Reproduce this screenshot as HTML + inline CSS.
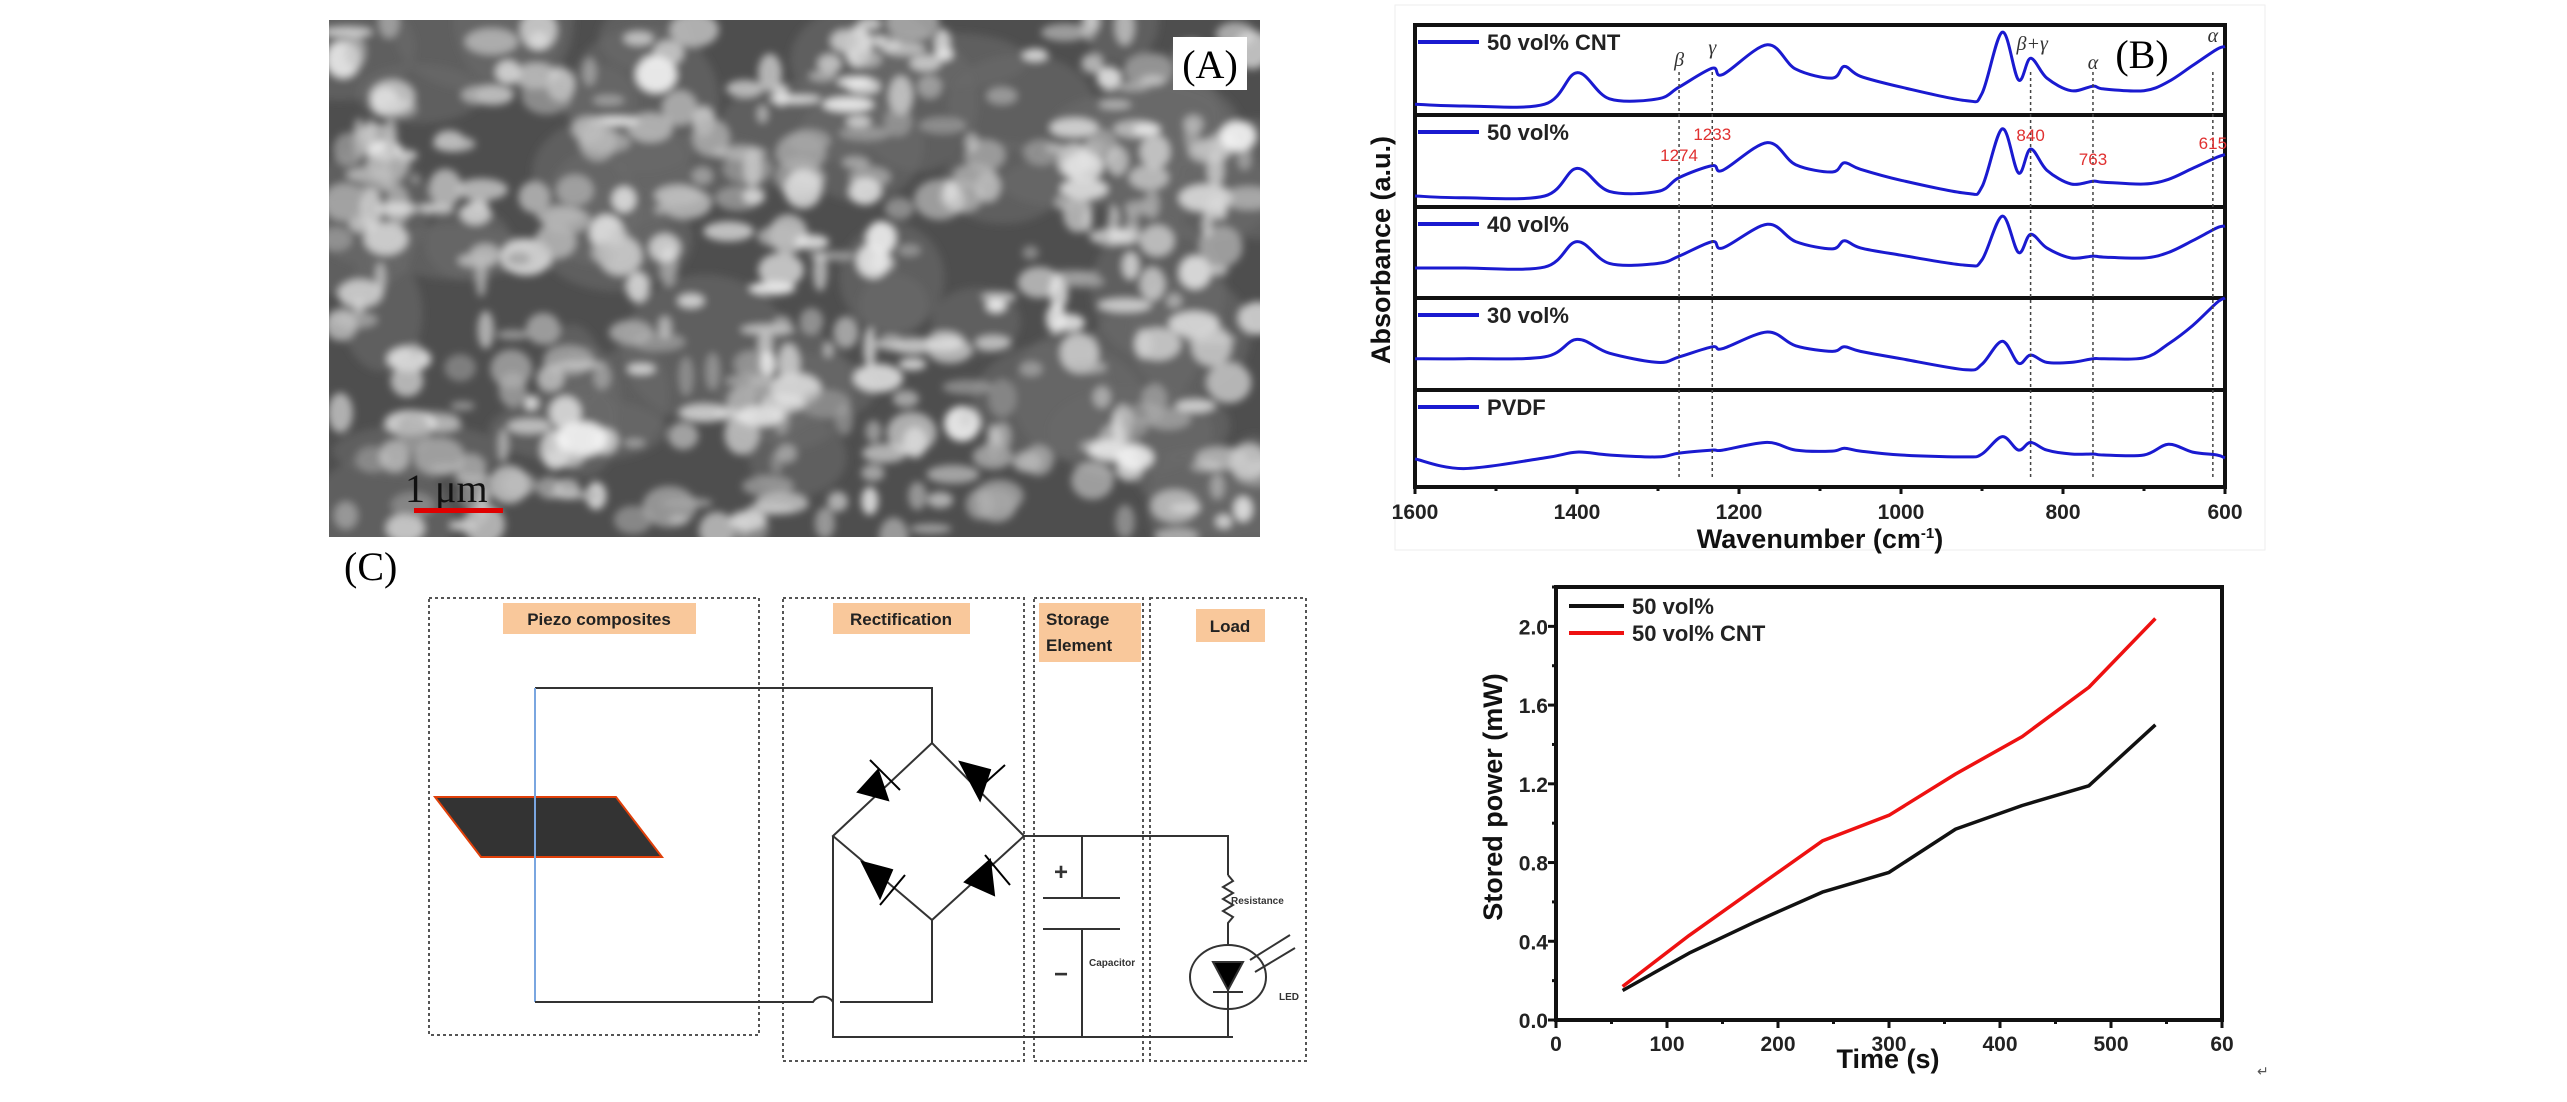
<!DOCTYPE html>
<html><head><meta charset="utf-8"><style>
html,body{margin:0;padding:0;background:#fff;}
body{width:2567px;height:1102px;overflow:hidden;position:relative;}
svg{position:absolute;left:0;top:0;}
.b{font-family:"Liberation Sans",sans-serif;font-weight:bold;}
.s{font-family:"Liberation Serif",serif;}
</style></head><body>
<svg id="root" width="2567" height="1102" viewBox="0 0 2567 1102">
<defs>
<filter id="blur" x="-20%" y="-20%" width="140%" height="140%"><feGaussianBlur stdDeviation="4"/></filter>
<clipPath id="semclip"><rect x="329" y="20" width="931" height="517"/></clipPath>
</defs>
<!-- Panel A -->
<g>
<rect x="329" y="20" width="931" height="517" fill="#4e4e4e"/>
<g id="blobs" clip-path="url(#semclip)" filter="url(#blur)"></g>
<rect x="1173" y="37" width="74" height="53" fill="#fff"/>
<text x="1210" y="78" class="s" font-size="40" text-anchor="middle">(A)</text>
<text x="405" y="502" class="s" font-size="40" fill="#111">1 μm</text>
<rect x="414" y="508" width="89" height="5" fill="#e00000"/>
</g>

<!-- Panel B -->
<g id="panelB"></g>

<!-- Panel C -->
<g fill="none" stroke="#333" stroke-width="2">
<text x="344" y="580" class="s" font-size="40" fill="#000" stroke="none">(C)</text>
<rect x="429" y="598" width="330" height="437" stroke-dasharray="3,3" stroke="#555"/>
<rect x="783" y="598" width="241" height="463" stroke-dasharray="3,3" stroke="#555"/>
<rect x="1034" y="598" width="109" height="463" stroke-dasharray="3,3" stroke="#555"/>
<rect x="1150" y="598" width="156" height="463" stroke-dasharray="3,3" stroke="#555"/>
<rect x="503" y="603" width="193" height="31" fill="#f9c89b" stroke="none"/>
<text x="599" y="625" class="b" font-size="17" text-anchor="middle" fill="#222" stroke="none">Piezo composites</text>
<rect x="833" y="603" width="137" height="31" fill="#f9c89b" stroke="none"/>
<text x="901" y="625" class="b" font-size="17" text-anchor="middle" fill="#222" stroke="none">Rectification</text>
<rect x="1039" y="603" width="102" height="59" fill="#f9c89b" stroke="none"/>
<text x="1046" y="625" class="b" font-size="17" fill="#222" stroke="none">Storage</text>
<text x="1046" y="651" class="b" font-size="17" fill="#222" stroke="none">Element</text>
<rect x="1196" y="609" width="69" height="33" fill="#f9c89b" stroke="none"/>
<text x="1230" y="632" class="b" font-size="17" text-anchor="middle" fill="#222" stroke="none">Load</text>
<polygon points="435,797 616,797 662,857 481,857" fill="#333" stroke="#e0400a" stroke-width="2"/>
<path d="M535,688 H932 V743"/>
<path d="M535,688 V1002" stroke="#7aa6e0"/>
<path d="M535,1002 H813 A12,12 0 0 1 833,1002 M840,1002 H932 V920"/>
<path d="M932,743 L833,836 L932,920 L1024,836 Z"/>
<path d="M833,836 V1037 H1233"/>
<path d="M1024,836 H1228 V875"/>
<g fill="#000" stroke="#000">
<polygon points="858,792 878,770 888,800"/><line x1="870" y1="760" x2="900" y2="790"/>
<polygon points="960,762 990,770 980,800"/><line x1="975" y1="792" x2="1005" y2="765"/>
<polygon points="862,862 892,870 880,898"/><line x1="880" y1="905" x2="905" y2="875"/>
<polygon points="965,882 990,860 994,895"/><line x1="985" y1="855" x2="1010" y2="885"/>
</g>
<path d="M1082,836 V898 M1043,898 H1120 M1043,929 H1120 M1082,929 V1037"/>
<text x="1061" y="880" font-size="24" fill="#333" stroke="none" text-anchor="middle" class="b">+</text>
<text x="1061" y="982" font-size="24" fill="#333" stroke="none" text-anchor="middle" class="b">−</text>
<text x="1089" y="966" font-size="10" fill="#333" stroke="none" class="b">Capacitor</text>
<path d="M1228,875 l5,6 l-10,6 l10,6 l-10,6 l10,6 l-10,6 l10,6 l-5,6 V945"/>
<text x="1231" y="904" font-size="10" fill="#333" stroke="none" class="b">Resistance</text>
<ellipse cx="1228" cy="977" rx="38" ry="32"/>
<polygon points="1213,962 1243,962 1228,990" fill="#000"/>
<path d="M1213,992 H1243 M1228,990 V1037 M1250,960 L1290,935 M1255,972 L1295,948"/>
<text x="1279" y="1000" font-size="10" fill="#333" stroke="none" class="b">LED</text>
</g>

<!-- Panel D -->
<g id="panelD"></g>
<text x="2257" y="1076" font-size="14" fill="#555">↵</text>
</svg>
<script>
const NS="http://www.w3.org/2000/svg";
function mk(parent,tag,attrs){const e=document.createElementNS(NS,tag);for(const k in attrs)e.setAttribute(k,attrs[k]);parent.appendChild(e);return e;}
function smooth(pts){let d='M'+pts[0][0].toFixed(1)+','+pts[0][1].toFixed(1);
 for(let i=0;i<pts.length-1;i++){const p0=pts[Math.max(0,i-1)],p1=pts[i],p2=pts[i+1],p3=pts[Math.min(pts.length-1,i+2)];
  const c1x=p1[0]+(p2[0]-p0[0])/6,c1y=p1[1]+(p2[1]-p0[1])/6,c2x=p2[0]-(p3[0]-p1[0])/6,c2y=p2[1]-(p3[1]-p1[1])/6;
  d+=' C'+c1x.toFixed(1)+','+c1y.toFixed(1)+' '+c2x.toFixed(1)+','+c2y.toFixed(1)+' '+p2[0].toFixed(1)+','+p2[1].toFixed(1);}
 return d;}

// ---------- SEM blobs (decorative texture) ----------
(function(){
 let s=12345;function r(){s=(s*16807)%2147483647;return s/2147483647;}
 const g=document.getElementById('blobs');
 for(let i=0;i<60;i++){
  const e=mk(g,'ellipse',{cx:329+r()*931,cy:20+r()*517,rx:30+r()*60,ry:25+r()*50,fill:'#6a6a6a','fill-opacity':0.6});
  
  
 }
 for(let i=0;i<380;i++){
  const v=Math.round(165+r()*80);
  const e=mk(g,'ellipse',{cx:329+r()*931,cy:20+r()*517,rx:5+r()*22,ry:4+r()*17,fill:'rgb('+v+','+v+','+v+')','fill-opacity':0.5+r()*0.45});
  
  
 }
})();

// ---------- Panel B data ----------
const ftirLabels=["50 vol% CNT","50 vol%","40 vol%","30 vol%","PVDF"];
const ftirWave=[1600,1540,1440,1400,1360,1300,1274,1233,1220,1165,1130,1085,1070,1050,1000,920,900,875,855,840,820,790,763,750,700,670,640,610,600];
const ftir1=[0.12,0.10,0.12,0.47,0.18,0.18,0.31,0.52,0.45,0.78,0.51,0.41,0.54,0.43,0.31,0.16,0.24,0.92,0.39,0.63,0.41,0.27,0.32,0.29,0.27,0.37,0.55,0.73,0.76];
const ftir2=[0.12,0.10,0.12,0.42,0.17,0.17,0.32,0.45,0.40,0.70,0.46,0.38,0.48,0.41,0.29,0.15,0.22,0.85,0.37,0.63,0.40,0.25,0.28,0.27,0.25,0.30,0.42,0.54,0.57];
const ftir3=[0.33,0.33,0.34,0.62,0.38,0.38,0.46,0.62,0.55,0.81,0.62,0.54,0.63,0.55,0.47,0.36,0.42,0.90,0.50,0.70,0.55,0.44,0.46,0.45,0.44,0.50,0.63,0.77,0.79];
const ftir4=[0.34,0.34,0.36,0.55,0.40,0.30,0.36,0.47,0.45,0.63,0.48,0.42,0.47,0.42,0.34,0.22,0.28,0.53,0.29,0.38,0.30,0.30,0.34,0.34,0.35,0.50,0.70,0.95,1.00];
const ftir5=[0.29,0.19,0.30,0.36,0.33,0.31,0.35,0.38,0.38,0.46,0.38,0.37,0.40,0.37,0.33,0.31,0.34,0.52,0.38,0.46,0.38,0.34,0.34,0.33,0.33,0.44,0.36,0.33,0.30];
const ftirSeries=[ftir1,ftir2,ftir3,ftir4,ftir5];
const ftirTicks=[1600,1400,1200,1000,800,600];
const markerWaves=[1274,1233,840,763,615];
const markerNums=["1274","1233","840","763","615"];

(function(){
 const g=document.getElementById('panelB');
 const L=1415,R=2225,T=25,B=487;
 const bounds=[25,115,207,298,390,487];
 const xs=w=>L+(1600-w)/(1600-600)*(R-L);
 const fr=mk(g,'rect',{x:1395,y:5,width:870,height:545,fill:'none',stroke:'#eee','stroke-width':1});
 
 for(let i=0;i<5;i++){
  const t=bounds[i],b=bounds[i+1];
  const ys=v=>b-v*(b-t);
  const box=mk(g,'rect',{x:L,y:t,width:R-L,height:b-t,fill:'none',stroke:'#111','stroke-width':4});
  
  const pts=ftirWave.map((w,j)=>[xs(w),ys(ftirSeries[i][j])]);
  const p=mk(g,'path',{d:smooth(pts),fill:'none',stroke:'#1a1ad0','stroke-width':3,'stroke-linejoin':'round'});
  
  const ll=mk(g,'line',{x1:L+3,x2:L+64,y1:t+17,y2:t+17,stroke:'#1a1ad0','stroke-width':4});
  
  const lt=mk(g,'text',{x:L+72,y:t+25,class:'b','font-size':22,fill:'#222'});lt.textContent=ftirLabels[i];
  
 }
 markerWaves.forEach((w,k)=>{
  const ln=mk(g,'line',{x1:xs(w),x2:xs(w),y1:72,y2:477,stroke:'#444','stroke-width':1.5,'stroke-dasharray':'3,3'});
  
 });
 const sym=[["β",1274,66],["γ",1233,54],["β+γ",838,50],["α",763,69],["α",615,42]];
 sym.forEach(s=>{const t=mk(g,'text',{x:xs(s[1]),y:s[2],'font-size':20,'font-style':'italic','text-anchor':'middle',fill:'#333',class:'s'});t.textContent=s[0];
  });
 const nums=[[1274,161],[1233,140],[840,141],[763,165],[615,149]];
 nums.forEach((n,k)=>{const t=mk(g,'text',{x:xs(n[0]),y:n[1],'font-size':17,'text-anchor':'middle',fill:'#e03030','font-family':'Liberation Sans, sans-serif'});t.textContent=markerNums[k];
  });
 const bl=mk(g,'text',{x:2142,y:68,class:'s','font-size':40,'text-anchor':'middle'});bl.textContent='(B)';
 
 for(let w=1600;w>=600;w-=100){const tk=mk(g,'line',{x1:xs(w),x2:xs(w),y1:B,y2:B+(w%200===0?7:4),stroke:'#111','stroke-width':3});
  }
 ftirTicks.forEach(w=>{const t=mk(g,'text',{x:xs(w),y:519,class:'b','font-size':21,'text-anchor':'middle',fill:'#222'});t.textContent=w;
  });
 const xt=mk(g,'text',{x:1820,y:548,class:'b','font-size':27,'text-anchor':'middle',fill:'#111'});
 xt.innerHTML='Wavenumber (cm<tspan dy="-10" font-size="15">-1</tspan><tspan dy="10">)</tspan>';
 
 const yt=mk(g,'text',{x:0,y:0,class:'b','font-size':27,'text-anchor':'middle',fill:'#111',transform:'translate(1390,250) rotate(-90)'});yt.textContent='Absorbance (a.u.)';
 
})();

// ---------- Panel D data ----------
const timeVals=[60,120,180,240,300,360,420,480,540];
const power50=[0.15,0.34,0.50,0.65,0.75,0.97,1.09,1.19,1.50];
const power50CNT=[0.17,0.43,0.67,0.91,1.04,1.25,1.44,1.69,2.04];
const xTicksD=[0,100,200,300,400,500,600];
const yTicksD=[0.0,0.4,0.8,1.2,1.6,2.0];
const seriesNamesD=["50 vol%","50 vol% CNT"];

(function(){
 const g=document.getElementById('panelD');
 const L=1556,R=2222,T=587,B=1020;
 const xs=v=>L+v/600*(R-L), ys=v=>B-v/2.2*(B-T);
 const box=mk(g,'rect',{x:L,y:T,width:R-L,height:B-T,fill:'none',stroke:'#111','stroke-width':4});
 
 for(let v=0;v<=600;v+=50){const tk=mk(g,'line',{x1:xs(v),x2:xs(v),y1:B,y2:B+(v%100===0?8:4),stroke:'#111','stroke-width':3});
  }
 for(let k=0;k<=11;k++){const v=k*0.2;const tk=mk(g,'line',{x1:L,x2:L-(k%2===0?8:4),y1:ys(v),y2:ys(v),stroke:'#111','stroke-width':3});
  }
 xTicksD.forEach(v=>{const t=mk(g,'text',{x:xs(v),y:1051,class:'b','font-size':21,'text-anchor':'middle',fill:'#222'});t.textContent=v===600?'60':v;
  });
 yTicksD.forEach(v=>{const t=mk(g,'text',{x:L-8,y:ys(v)+8,class:'b','font-size':21,'text-anchor':'end',fill:'#222'});t.textContent=v.toFixed(1);
  });
 const cols=['#111','#ee1111'];
 [power50,power50CNT].forEach((arr,i)=>{
  const d=timeVals.map((t,j)=>(j?'L':'M')+xs(t).toFixed(1)+','+ys(arr[j]).toFixed(1)).join(' ');
  const p=mk(g,'path',{d:d,fill:'none',stroke:cols[i],'stroke-width':3.5,'stroke-linejoin':'round'});
  
  const ll=mk(g,'line',{x1:1569,x2:1624,y1:606+i*27,y2:606+i*27,stroke:cols[i],'stroke-width':4});
  
  const lt=mk(g,'text',{x:1632,y:614+i*27,class:'b','font-size':22,fill:'#222'});lt.textContent=seriesNamesD[i];
  
 });
 const xt=mk(g,'text',{x:1888,y:1068,class:'b','font-size':27,'text-anchor':'middle',fill:'#111'});xt.textContent='Time (s)';
 
 const yt=mk(g,'text',{x:0,y:0,class:'b','font-size':27,'text-anchor':'middle',fill:'#111',transform:'translate(1502,797) rotate(-90)'});yt.textContent='Stored power (mW)';
 
})();
</script>
</body></html>
